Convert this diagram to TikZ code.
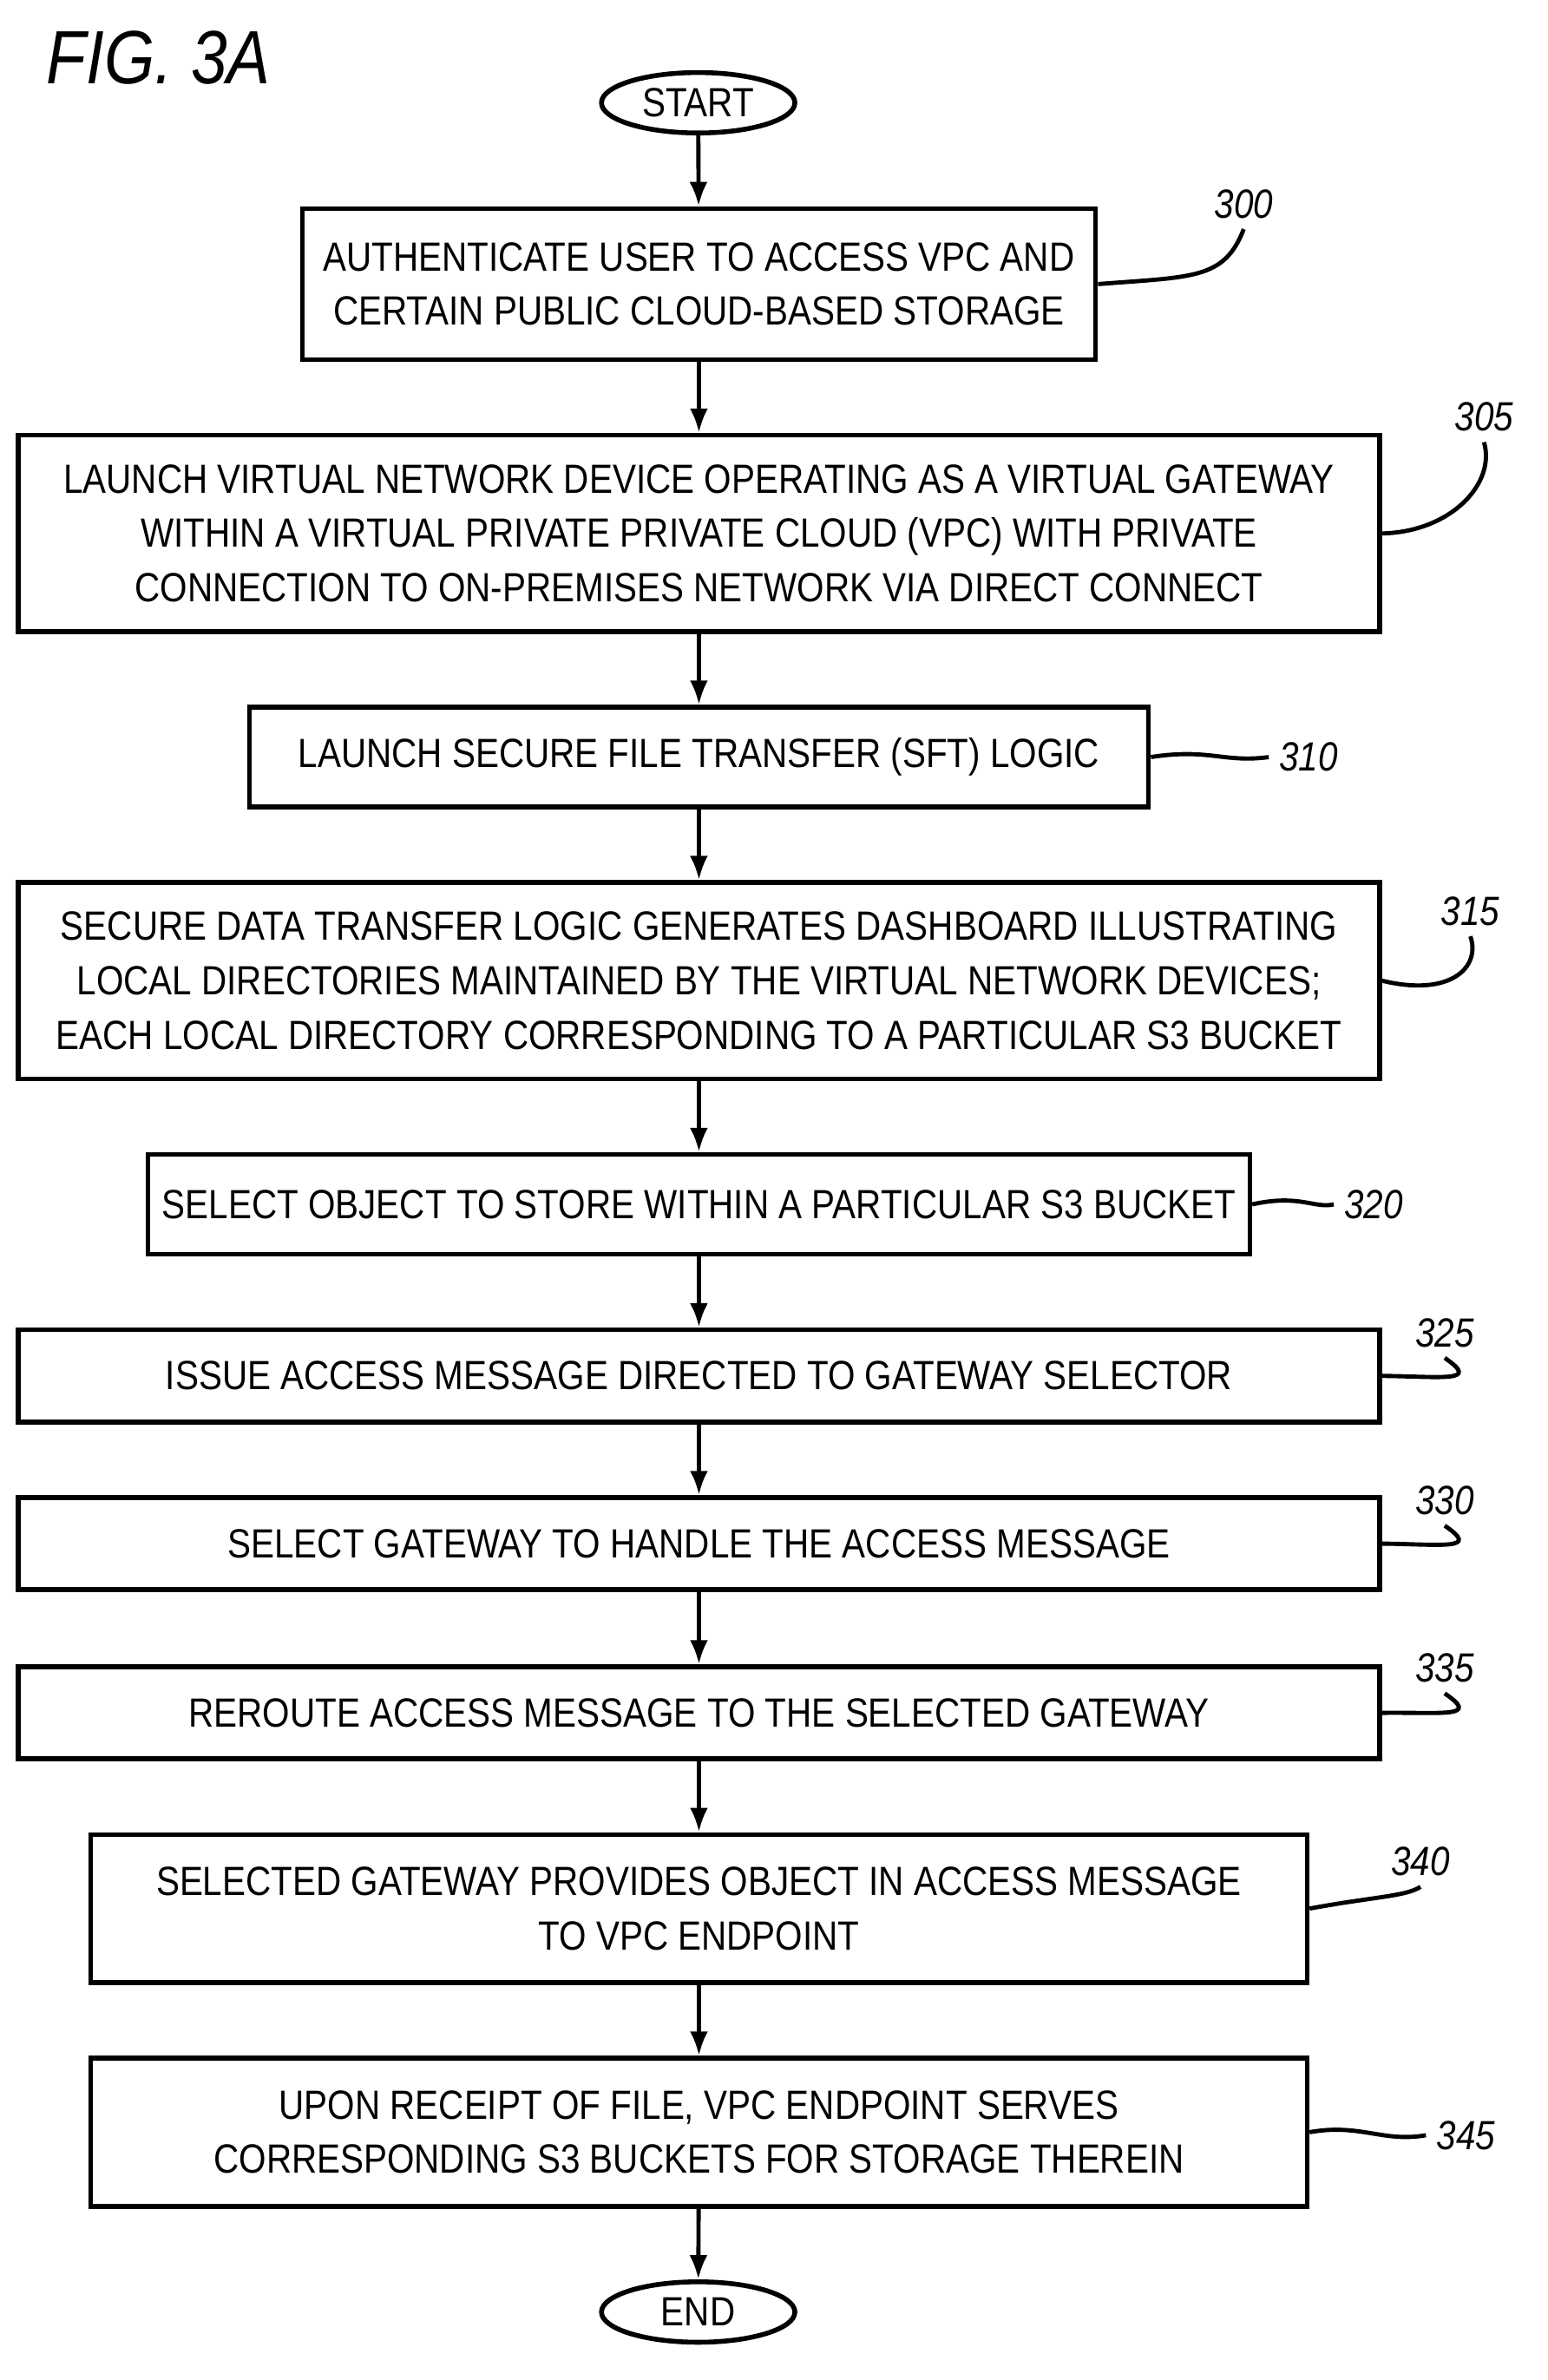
\documentclass[tikz,border=0pt]{standalone}
\usepackage{fontspec}
\setmainfont[FakeStretch=0.86]{Liberation Sans}
\usetikzlibrary{arrows.meta,shapes.geometric}
\begin{document}
\begin{tikzpicture}[x=0.5pt,y=-0.5pt,
  box/.style={draw,line width=1.6pt,align=center,font=\fontsize{13.5}{18}\selectfont,inner sep=0pt},
  term/.style={draw,ellipse,line width=1.6pt,minimum width=64pt,minimum height=20pt,inner sep=0pt,font=\fontsize{13.5}{14}\selectfont},
  arr/.style={line width=1.4pt,-{Latex[length=8pt,width=6pt]}},
  lab/.style={font=\itshape\fontsize{13.5}{14}\selectfont},
  lead/.style={line width=1.4pt}]
\useasboundingbox (0,0) rectangle (1024,1575);
\node[font=\itshape\fontsize{25}{26}\selectfont] (fig) at (105,38) {FIG. 3A};
\newcommand{\bx}[6]{\node[box,minimum width={(#3-#2)*0.5pt},minimum height={(#5-#4)*0.5pt}] (#1) at ({(#2+#3)/2},{(#4+#5)/2}) {#6};}
\node[term] (start) at (462,68) {START};
\bx{b300}{200}{725}{138}{238}{AUTHENTICATE USER TO ACCESS VPC AND\\CERTAIN PUBLIC CLOUD-BASED STORAGE}
\bx{b305}{12}{913}{288}{418}{LAUNCH VIRTUAL NETWORK DEVICE OPERATING AS A VIRTUAL GATEWAY\\WITHIN A VIRTUAL PRIVATE PRIVATE CLOUD (VPC) WITH PRIVATE\\CONNECTION TO ON-PREMISES NETWORK VIA DIRECT CONNECT}
\bx{b310}{165}{760}{468}{534}{LAUNCH SECURE FILE TRANSFER (SFT) LOGIC}
\bx{b315}{12}{913}{584}{714}{SECURE DATA TRANSFER LOGIC GENERATES DASHBOARD ILLUSTRATING\\LOCAL DIRECTORIES MAINTAINED BY THE VIRTUAL NETWORK DEVICES;\\EACH LOCAL DIRECTORY CORRESPONDING TO A PARTICULAR S3 BUCKET}
\bx{b320}{98}{827}{764}{830}{SELECT OBJECT TO STORE WITHIN A PARTICULAR S3 BUCKET}
\bx{b325}{12}{913}{880}{941}{ISSUE ACCESS MESSAGE DIRECTED TO GATEWAY SELECTOR}
\bx{b330}{12}{913}{991}{1052}{SELECT GATEWAY TO HANDLE THE ACCESS MESSAGE}
\bx{b335}{12}{913}{1103}{1164}{REROUTE ACCESS MESSAGE TO THE SELECTED GATEWAY}
\bx{b340}{60}{865}{1214}{1312}{SELECTED GATEWAY PROVIDES OBJECT IN ACCESS MESSAGE\\TO VPC ENDPOINT}
\bx{b345}{60}{865}{1362}{1460}{UPON RECEIPT OF FILE, VPC ENDPOINT SERVES\\CORRESPONDING S3 BUCKETS FOR STORAGE THEREIN}
\node[term] (end) at (462,1530) {END};
\foreach \a/\b in {start/b300,b300/b305,b305/b310,b310/b315,b315/b320,b320/b325,b325/b330,b330/b335,b335/b340,b340/b345,b345/end}
  \draw[arr] (\a) -- (\b);
\node[lab] (l300) at (823,135) {300};
\node[lab] (l305) at (982,276) {305};
\node[lab] (l310) at (866,501) {310};
\node[lab] (l315) at (973,603) {315};
\node[lab] (l320) at (909,797) {320};
\node[lab] (l325) at (956,882) {325};
\node[lab] (l330) at (956,993) {330};
\node[lab] (l335) at (956,1104) {335};
\node[lab] (l340) at (940,1232) {340};
\node[lab] (l345) at (970,1413) {345};
\draw[lead] (b300.east) .. controls (790,183) and (810,185) .. (l300.south);
\draw[lead] (b305.east) .. controls (960,352) and (990,320) .. (l305.south);
\draw[lead] (b310.east) .. controls (800,495) and (810,505) .. (l310.west);
\draw[lead] (b315.east) .. controls (960,660) and (980,640) .. (l315.south);
\draw[lead] (b320.east) .. controls (860,790) and (870,800) .. (l320.west);
\draw[lead] (b325.east) .. controls (955,911) and (980,915) .. (l325.south);
\draw[lead] (b330.east) .. controls (955,1022) and (980,1026) .. (l330.south);
\draw[lead] (b335.east) .. controls (955,1133) and (980,1137) .. (l335.south);
\draw[lead] (b340.east) .. controls (910,1255) and (930,1255) .. (l340.south);
\draw[lead] (b345.east) .. controls (900,1405) and (915,1418) .. (l345.west);
\end{tikzpicture}
\end{document}
